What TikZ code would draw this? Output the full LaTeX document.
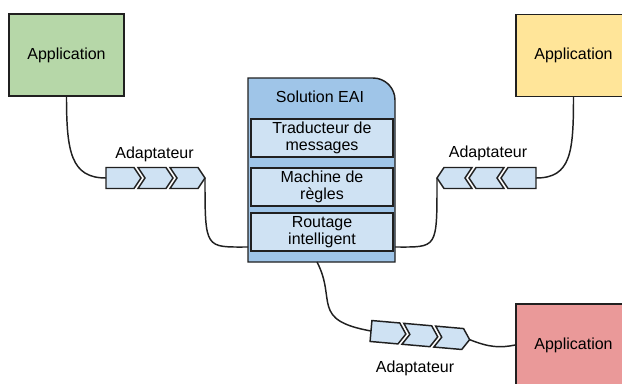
\documentclass[tikz,border=0pt]{standalone}
\usepackage{fontspec}
\setmainfont{Liberation Sans}
\definecolor{appgreen}{HTML}{B6D7A8}
\definecolor{appyellow}{HTML}{FFE599}
\definecolor{appred}{HTML}{EA9999}
\definecolor{eaiblue}{HTML}{9FC5E8}
\definecolor{paleblue}{HTML}{CFE2F3}
\definecolor{edge}{HTML}{202020}
\tikzset{
  app/.style={draw=edge, line width=1.1pt, minimum width=115*0.75pt,
    minimum height=82*0.75pt, font=\fontsize{12}{12.75}\selectfont},
  module/.style={draw=edge, line width=1.1pt, fill=paleblue, inner sep=0pt,
    minimum width=142*0.75pt, minimum height=38*0.75pt, align=center,
    font=\fontsize{12}{12.75}\selectfont},
  chevron/.style={draw=edge, line width=1.1pt, fill=paleblue},
  wire/.style={draw=edge, line width=1.1pt},
  tag/.style={anchor=base, inner sep=0pt, font=\fontsize{12}{14}\selectfont}
}
\begin{document}
\begin{tikzpicture}[x=0.75pt, y=0.75pt]
      \useasboundingbox (0,0) rectangle (622,-383);
      \clip (0,0) rectangle (622,-383);
      % applications
      \node[app, fill=appgreen] (appl) at (66.5,-55) {Application};
      \node[app, fill=appyellow] (appr) at (573.5,-55.5) {Application};
      \node[app, fill=appred] (appb) at (573.5,-345) {Application};
      % solution EAI
      \draw[line width=1.1pt, draw=edge, fill=eaiblue]
        (248,-262) -- (248,-78) -- (373,-78)
        arc[start angle=90, end angle=0, radius=22] -- (395,-262) -- cycle;
      \node[tag] (eai) at (320,-102.7) {Solution EAI};
      \node[module] (trad) at (322,-138) {Traducteur de\\messages};
      \node[module] (regles) at (322,-187) {Machine de\\règles};
      \node[module] (routage) at (322,-232) {Routage\\intelligent};
      \coordinate (eai-l) at (248,-247);
      \coordinate (eai-r) at (395,-247);
      \coordinate (eai-b) at (317,-262);
      % adaptateurs
      \begin{scope}[shift={(106,-178)}]
        \draw[chevron] (0,10.5) -- (28,10.5) -- (35,0) -- (28,-10.5) -- (0,-10.5) -- cycle;
        \foreach \x in {32,64}
          \draw[chevron] (\x,10.5) -- ++(28,0) -- ++(7,-10.5) -- ++(-7,-10.5)
            -- ++(-28,0) -- ++(7,10.5) -- cycle;
        \coordinate (adl-in) at (0,0);
        \coordinate (adl-out) at (99,0);
      \end{scope}
      \begin{scope}[shift={(536,-178)}, xscale=-1]
        \draw[chevron] (0,10.5) -- (28,10.5) -- (35,0) -- (28,-10.5) -- (0,-10.5) -- cycle;
        \foreach \x in {32,64}
          \draw[chevron] (\x,10.5) -- ++(28,0) -- ++(7,-10.5) -- ++(-7,-10.5)
            -- ++(-28,0) -- ++(7,10.5) -- cycle;
        \coordinate (adr-in) at (0,0);
        \coordinate (adr-out) at (99,0);
      \end{scope}
      \begin{scope}[shift={(371,-331)}, rotate=-5]
        \draw[chevron] (0,10.5) -- (28,10.5) -- (35,0) -- (28,-10.5) -- (0,-10.5) -- cycle;
        \foreach \x in {32,64}
          \draw[chevron] (\x,10.5) -- ++(28,0) -- ++(7,-10.5) -- ++(-7,-10.5)
            -- ++(-28,0) -- ++(7,10.5) -- cycle;
        \coordinate (adb-in) at (0,0);
        \coordinate (adb-out) at (99,0);
      \end{scope}
      \node[tag] (lbl-l) at (154.5,-158) {Adaptateur};
      \node[tag] (lbl-r) at (488,-157) {Adaptateur};
      \node[tag] (lbl-b) at (415,-372.7) {Adaptateur};
      % liaisons
      \draw[wire] (appl.south) .. controls +(0,-55) and +(-35,0) .. (adl-in);
      \draw[wire] (adl-out) .. controls +(0,-72) and +(-43,0) .. (eai-l);
      \draw[wire] (appr.south) .. controls +(0,-55) and +(35,0) .. (adr-in);
      \draw[wire] (adr-out) .. controls +(0,-72) and +(43,0) .. (eai-r);
      \draw[wire] (eai-b) .. controls +(20,-38) and +(-61,11) .. (adb-in);
      \draw[wire] (adb-out) .. controls +(20,-8) and +(-15,-3) .. (appb.west);
    \end{tikzpicture}
\end{document}
